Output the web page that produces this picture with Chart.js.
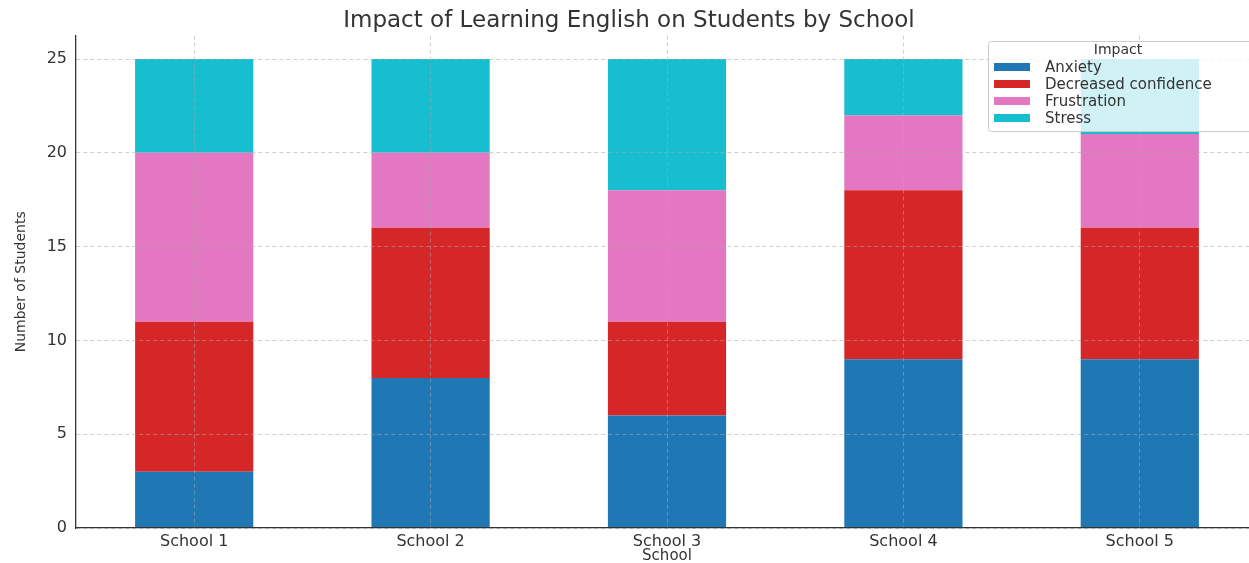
<!DOCTYPE html>
<html>
<head>
<meta charset="utf-8">
<script src="https://cdn.jsdelivr.net/npm/chart.js@4.4.1/dist/chart.umd.min.js"></script>
<style>
  html, body { margin: 0; padding: 0; background: #fff; overflow: hidden; }
  #wrap { width: 1258px; height: 563px; }
</style>
</head>
<body>
<div id="wrap"><canvas id="chart"></canvas></div>
<script>
const schools = ['School 1', 'School 2', 'School 3', 'School 4', 'School 5'];
const anxiety = [3, 8, 6, 9, 9];
const decreasedConfidence = [8, 8, 5, 9, 7];
const frustration = [9, 4, 7, 4, 5];
const stress = [5, 5, 7, 3, 4];
const yTicks = [0, 5, 10, 15, 20, 25];

const FONT = "'DejaVu Sans', sans-serif";
const textColor = '#333333';
const gridColor = 'rgba(170,170,170,0.55)';

// legend drawn inside the plot, top right, like matplotlib
const innerLegend = {
    id: 'innerLegend',
    afterDraw(chart) {
        const ctx = chart.ctx;
        const x0 = 988, y0 = 41, w = 280, h = 90;
        ctx.save();
        ctx.fillStyle = 'rgba(255,255,255,0.8)';
        ctx.strokeStyle = '#cccccc';
        ctx.lineWidth = 1;
        ctx.beginPath();
        ctx.roundRect(x0 + 0.5, y0 + 0.5, w, h, 3);
        ctx.fill();
        ctx.stroke();
        ctx.fillStyle = textColor;
        ctx.font = '14px ' + FONT;
        ctx.textBaseline = 'middle';
        ctx.textAlign = 'center';
        ctx.fillText('Impact', 1118, 50);
        ctx.font = '15px ' + FONT;
        ctx.textAlign = 'left';
        chart.data.datasets.forEach((ds, i) => {
            const y = 67 + i * 17;
            ctx.fillStyle = ds.backgroundColor;
            ctx.fillRect(994, y - 4, 36, 8);
            ctx.fillStyle = textColor;
            ctx.fillText(ds.label, 1045, y + 1);
        });
        ctx.restore();
    }
};

const ctx = document.getElementById('chart').getContext('2d');

const myChart = new Chart(ctx, {
    type: 'bar',
    data: {
        labels: schools,
        datasets: [
            { label: 'Anxiety', data: anxiety, backgroundColor: '#1f77b4' },
            { label: 'Decreased confidence', data: decreasedConfidence, backgroundColor: '#d62728' },
            { label: 'Frustration', data: frustration, backgroundColor: '#e377c2' },
            { label: 'Stress', data: stress, backgroundColor: '#17becf' }
        ]
    },
    options: {
        responsive: true,
        maintainAspectRatio: false,
        animation: false,
        layout: { padding: 0 },
        datasets: {
            bar: { barPercentage: 0.5, categoryPercentage: 1, borderWidth: 0 }
        },
        scales: {
            x: {
                stacked: true,
                grid: {
                    color: gridColor,
                    drawTicks: false,
                    offset: false,
                    z: 1
                },
                border: { color: '#333333', width: 1.3, dash: [4, 3], z: 2 },
                ticks: { color: textColor, font: { family: FONT, size: 16 }, padding: 4 },
                title: {
                    display: true,
                    text: 'School',
                    color: textColor,
                    font: { family: FONT, size: 15 },
                    padding: { top: 0, bottom: -2 }
                },
                afterFit(scale) { scale.height = 35; }
            },
            y: {
                stacked: true,
                min: 0,
                max: 26.25,
                afterBuildTicks(scale) {
                    scale.ticks = yTicks.map(v => ({ value: v }));
                },
                grid: {
                    color: gridColor,
                    drawTicks: false,
                    z: 1
                },
                border: { color: '#333333', width: 1.3, dash: [4, 3], z: 2 },
                ticks: { color: textColor, font: { family: FONT, size: 16 }, padding: 9 },
                title: {
                    display: true,
                    text: 'Number of Students',
                    color: textColor,
                    font: { family: FONT, size: 14 },
                    padding: { top: 13, bottom: 0 }
                },
                afterFit(scale) { scale.width = 76; }
            }
        },
        plugins: {
            legend: { display: false },
            tooltip: { enabled: false },
            title: {
                display: true,
                text: 'Impact of Learning English on Students by School',
                color: textColor,
                font: { family: FONT, size: 23, weight: 'normal' },
                padding: { top: 7, bottom: 1 }
            }
        }
    },
    plugins: [innerLegend]
});
</script>
</body>
</html>
